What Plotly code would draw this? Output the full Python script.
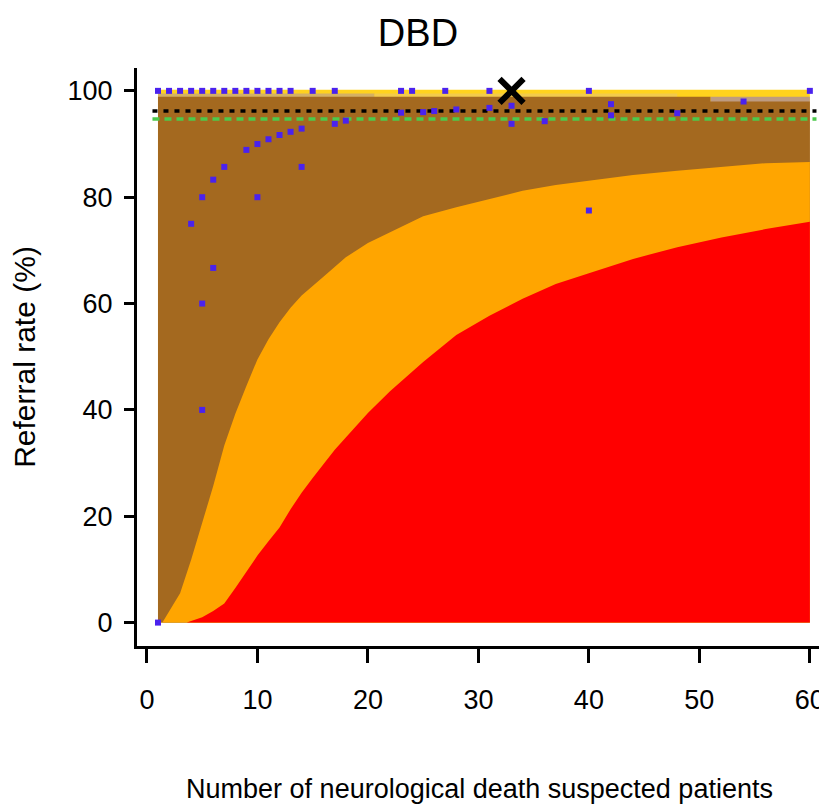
import plotly.graph_objects as go

# ---------------- data ----------------
# hospitals: number of suspected patients and referral rate (%)
hosp_n = [1, 2, 3, 4, 5, 6, 7, 8, 9, 10, 11, 12, 13, 15, 17, 23, 24, 27, 31, 40, 60,
          1, 4, 5, 5, 5, 6, 6, 7, 9, 10, 10, 11, 12, 13, 14, 14, 17, 18,
          23, 25, 26, 28, 31, 33, 33, 36, 40, 42, 42, 48, 54]
hosp_rate = [100, 100, 100, 100, 100, 100, 100, 100, 100, 100, 100, 100, 100, 100, 100,
             100, 100, 100, 100, 100, 100,
             0, 75, 80, 60, 40, 83.3, 66.7, 85.7, 88.9, 90, 80, 90.9, 91.7, 92.3, 92.9,
             85.7, 93.8, 94.4, 95.9, 96.0, 96.2, 96.5, 96.8, 97.2, 93.8, 94.3, 77.5,
             97.5, 95.4, 95.8, 98.0]

# highlighted hospital
target_n = [33]
target_rate = [100]

# reference lines
ref_n = [0.5, 60.6]
overall_rate = [96.2, 96.2]
target_line = [94.7, 94.7]

# funnel limits: outer lower limit (brown / orange boundary)
lim1_n = [1.4, 2, 3, 4, 5, 6, 7, 8, 9, 10, 11, 12, 13, 14, 16, 18, 20, 22, 25, 28,
          31, 34, 37, 40, 44, 48, 52, 56, 60]
lim1_rate = [0, 2.0, 5.5, 11.8, 18.6, 25.7, 33.3, 39.3, 44.5, 49.5, 53.3, 56.5, 59.2,
             61.5, 65.1, 68.7, 71.4, 73.4, 76.4, 78.1, 79.6, 81.2, 82.3, 83.1, 84.2,
             85.0, 85.7, 86.4, 86.6]
# inner lower limit (orange / red boundary)
lim2_n = [3.6, 4, 5, 6, 7, 8, 9, 10, 11, 12, 13, 14, 15, 16, 17, 18, 20, 22, 25, 28,
          31, 34, 37, 40, 44, 48, 52, 56, 60]
lim2_rate = [0, 0.3, 1.0, 2.2, 3.6, 6.5, 9.5, 12.6, 15.3, 17.9, 21.3, 24.4, 27.2, 29.9,
             32.5, 34.8, 39.4, 43.5, 49.0, 54.1, 57.7, 60.9, 63.7, 65.7, 68.4, 70.6,
             72.4, 74.0, 75.4]
# upper bands
top_n = [1, 60]
top_rate = [100.2, 100.2]
tan_n = [1, 20.6]
tan_rate = [99.5, 99.5]
light_n = [20.6, 48]
light_rate = [99.5, 99.5]
grey_n = [51, 60]
grey_rate = [98.9, 98.9]
brown_n = [1, 51, 51, 60]
brown_rate = [98.9, 98.9, 98.0, 98.0]

x_ticks = [0, 10, 20, 30, 40, 50, 60]
y_ticks = [0, 20, 40, 60, 80, 100]

FONT = "Liberation Sans Narrow, Arial Narrow, Liberation Sans, Arial, sans-serif"

fig = go.Figure()


def band(xs, ys, color):
    fig.add_trace(go.Scatter(x=xs, y=ys, mode="lines", fill="tozeroy",
                             fillcolor=color, line=dict(width=0, color=color),
                             hoverinfo="skip", showlegend=False))


band(top_n, top_rate, "#FFD21E")
band(tan_n, tan_rate, "#D4B064")
band(light_n, light_rate, "#F2CA4C")
band(grey_n, grey_rate, "#BE9B80")
band(brown_n, brown_rate, "#A4691F")
band(lim1_n, lim1_rate, "#FFA500")
band(lim2_n, lim2_rate, "#FF0000")

fig.add_trace(go.Scatter(x=ref_n, y=overall_rate, mode="lines",
                         line=dict(color="black", width=3.5, dash="5px,6px"),
                         showlegend=False, hoverinfo="skip"))
fig.add_trace(go.Scatter(x=ref_n, y=target_line, mode="lines",
                         line=dict(color="#4CC94C", width=3.5, dash="7px,5px"),
                         showlegend=False, hoverinfo="skip"))

fig.add_trace(go.Scatter(x=hosp_n, y=hosp_rate, mode="markers",
                         marker=dict(symbol="square", size=6, color="#4A22EE",
                                     line=dict(width=0)),
                         showlegend=False))
fig.add_trace(go.Scatter(x=target_n, y=target_rate, mode="markers",
                         marker=dict(symbol="x-thin", size=24, color="black",
                                     line=dict(width=6, color="black")),
                         showlegend=False))

# the page body adds an 8px offset, so the figure is 8px smaller than the window
fig.update_layout(
    width=819, height=800,
    margin=dict(l=129, r=5, t=60, b=162),
    paper_bgcolor="white", plot_bgcolor="white",
    font=dict(family=FONT, color="black", size=27),
    title=dict(text="DBD", x=0.5006, xanchor="center", y=0.969, yanchor="middle",
               font=dict(family=FONT, size=38, color="black")),
    showlegend=False,
)
fig.update_xaxes(
    range=[-0.9, 61.1], tickvals=x_ticks,
    showgrid=False, zeroline=False, automargin=False,
    showline=True, linecolor="black", linewidth=3,
    ticks="outside", ticklen=14, tickwidth=3, tickcolor="black",
    ticklabelstandoff=14, ticklabeloverflow="allow",
    tickfont=dict(family=FONT, size=27),
    title=dict(text="Number of neurological death suspected patients",
               font=dict(family=FONT, size=27), standoff=65),
)
fig.update_yaxes(
    range=[-4.4, 104.3], tickvals=y_ticks,
    showgrid=False, zeroline=False, automargin=False,
    showline=True, linecolor="black", linewidth=3,
    ticks="outside", ticklen=10, tickwidth=3, tickcolor="black",
    ticklabelstandoff=6,
    tickfont=dict(family=FONT, size=27),
    title=dict(text="Referral rate (%)", font=dict(family=FONT, size=30), standoff=33),
)

fig.write_html("out.html")
